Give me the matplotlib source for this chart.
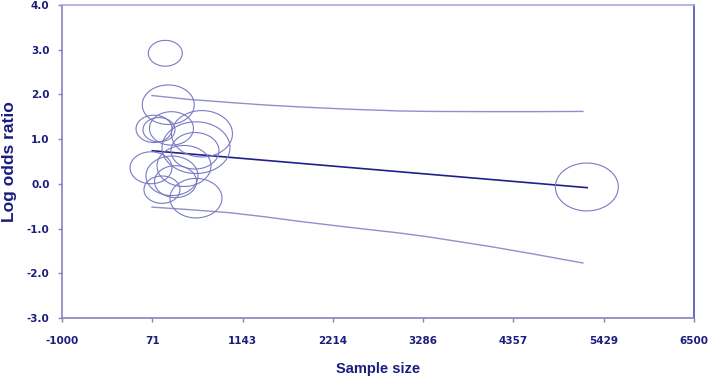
import numpy as np
import matplotlib
matplotlib.use("Agg")
import matplotlib.pyplot as plt

# studies: sample size, log odds ratio, bubble weight (drawn diameter)
sample_size = [226, 261, 92, 151, 299, 661, 590, 578, 56, 448, 305, 347, 186, 590, 5229]
log_or = [2.92, 1.77, 1.23, 1.21, 1.24, 1.12, 0.81, 0.74, 0.36, 0.40, 0.18, 0.05, -0.13, -0.32, -0.07]
weight = [34, 52, 36, 32, 44, 61, 68, 48, 42, 54, 52, 42, 36, 52, 63]

# fitted meta-regression line
fit_x = [71, 5233]
fit_y = [0.74, -0.085]

# confidence limits
ci_x = [68, 500, 993, 1400, 1824, 2400, 3010, 3365, 4078, 4600, 5182]
ci_upper = [1.975, 1.89, 1.82, 1.765, 1.72, 1.67, 1.63, 1.62, 1.615, 1.615, 1.62]
ci_lower = [-0.52, -0.575, -0.645, -0.735, -0.84, -0.97, -1.10, -1.19, -1.40, -1.57, -1.77]

xtick_labels = ["-1000", "71", "1143", "2214", "3286", "4357", "5429", "6500"]
yticks = [-3, -2, -1, 0, 1, 2, 3, 4]

navy = "#1c1c80"
plt.rcParams["font.family"] = ["Liberation Sans", "DejaVu Sans"]

fig = plt.figure(figsize=(7.08, 3.78), dpi=100)
ax = fig.add_axes([0.0876, 0.1587, 0.8925, 0.8281])

t = np.linspace(0, 2 * np.pi, 80)
ellipse = np.column_stack([np.cos(t), 0.76 * np.sin(t)])
sizes = [(w * 0.72) ** 2 for w in weight]
ax.scatter(sample_size, log_or, s=sizes, marker=ellipse, facecolors="none",
           edgecolors="#7a7ac4", linewidths=0.8, zorder=3)

ax.plot(ci_x, ci_upper, color="#9090cc", lw=1.0)
ax.plot(ci_x, ci_lower, color="#9090cc", lw=1.0)
ax.plot(fit_x, fit_y, color="#20208c", lw=1.2)

ax.set_xlim(-1000, 6500)
ax.set_ylim(-3, 4)
ax.set_xticks(np.linspace(-1000, 6500, 8))
ax.set_xticklabels(xtick_labels)
ax.set_yticks(yticks)
ax.set_yticklabels(["%.1f" % v for v in yticks])

for lab in ax.get_xticklabels() + ax.get_yticklabels():
    lab.set_family("DejaVu Sans")
    lab.set_fontweight("bold")
    lab.set_color(navy)
    lab.set_fontsize(7.5)

ax.tick_params(axis="x", direction="out", length=3, width=1, color="#8484c4", pad=10)
ax.tick_params(axis="y", direction="out", length=3, width=1, color="#8484c4", pad=6)

ax.spines["left"].set_color("#8484c4")
ax.spines["bottom"].set_color("#8484c4")
ax.spines["top"].set_color("#a8a8d8")
ax.spines["right"].set_color("#4c4cc4")
for sp in ax.spines.values():
    sp.set_linewidth(1.2)

ax.set_xlabel("Sample size", fontsize=10.5, fontweight="bold", color=navy)
ax.xaxis.set_label_coords(0.5, -0.14)
ax.set_ylabel("Log odds ratio", fontsize=12.5, fontweight="bold", color=navy)
ax.yaxis.set_label_coords(-0.072, 0.5)

fig.savefig("out.png", dpi=100)
